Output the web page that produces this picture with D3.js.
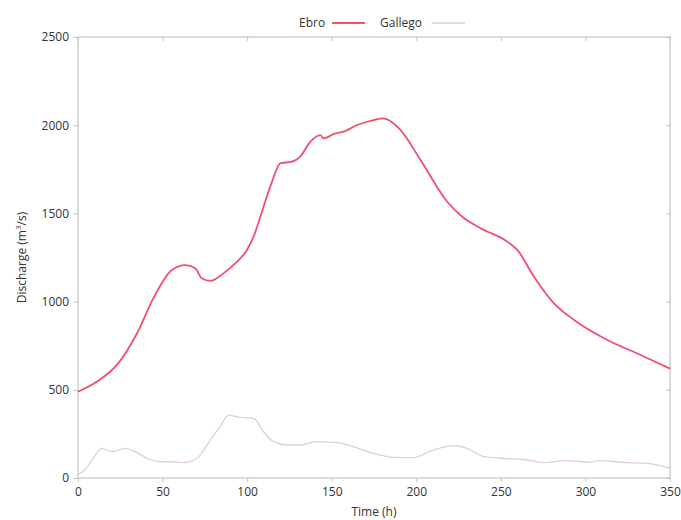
<!DOCTYPE html>
<html>
<head>
<meta charset="utf-8">
<script src="https://cdn.jsdelivr.net/npm/d3@7"></script>
<style>
  body { margin: 0; background: #fff; }
  svg text { font-family: "Open Sans", sans-serif; fill: #333; }
</style>
</head>
<body>
<svg id="chart" width="681" height="520"></svg>
<script>
// Ebro discharge (time h, m3/s)
var ebroT = [0, 11, 23, 35, 44.6, 55.5, 63.4, 69.3, 73.2, 78.2, 86, 94, 99.9, 103.8, 109.7, 114.7, 119.6, 126.5, 131.4, 137.4, 143.3, 145.2, 152.2, 157, 165, 172.9, 179.8, 182.7, 190.6, 202.5, 218.3, 227.2, 238, 253.8, 259.7, 269.6, 281.4, 293.3, 313, 332.7, 350]
var ebroQ = [489, 546, 641, 822, 1020, 1179, 1207, 1189, 1132, 1117, 1160, 1226, 1293, 1368, 1538, 1680, 1784, 1793, 1822, 1907, 1944, 1926, 1954, 1963, 2001, 2024, 2039, 2033, 1973, 1803, 1566, 1481, 1416, 1340, 1293, 1141, 990, 896, 782, 697, 620]

// Gallego discharge
var gallT = [0, 4, 9, 14, 20, 27.8, 33.7, 40.7, 48.5, 54.5, 62.3, 70.3, 78.2, 84, 89, 95.9, 103.8, 109.7, 115.6, 123.5, 131.4, 140.3, 153.2, 163, 172.9, 186.7, 198.5, 208.4, 222.2, 230.1, 240, 249.9, 265.7, 274.5, 289.3, 303.1, 307, 324.8, 336.7, 350]
var gallQ = [20, 45, 112, 168, 149, 168, 149, 112, 92, 92, 87, 112, 215, 291, 357, 344, 338, 262, 206, 187, 187, 206, 200, 177, 145, 117, 115, 153, 183, 168, 121, 112, 102, 87, 98, 89, 98, 87, 83, 55]

var xTicks = [0, 50, 100, 150, 200, 250, 300, 350]
var yTicks = [0, 500, 1000, 1500, 2000, 2500]

var colorEbro = '#f0506e'
var colorGall = '#e3cdd2'
var colorFrame = '#c4c4c4'

var svg = d3.select('#chart')
var pLeft = 78, pRight = 670, pTop = 37, pBottom = 478

var x = d3.scaleLinear().domain([0, 350]).range([pLeft, pRight])
var y = d3.scaleLinear().domain([0, 2500]).range([pBottom, pTop])

function series(ts, qs) {
  return ts.map(function (t, i) { return [t, qs[i]] })
}

// frame
svg.append('rect')
  .attr('x', pLeft).attr('y', pTop)
  .attr('width', pRight - pLeft).attr('height', pBottom - pTop)
  .attr('fill', 'none').attr('stroke', colorFrame).attr('stroke-width', 1.2)

// axes
var xAxis = svg.append('g')
  .attr('transform', 'translate(0,' + pBottom + ')')
  .call(d3.axisBottom(x).tickValues(xTicks).tickSize(4).tickPadding(5).tickFormat(d3.format('d')))
var yAxis = svg.append('g')
  .attr('transform', 'translate(' + pLeft + ',0)')
  .call(d3.axisLeft(y).tickValues(yTicks).tickSize(5).tickPadding(4).tickFormat(d3.format('d')))
var yAxisR = svg.append('g')
  .attr('transform', 'translate(' + pRight + ',0)')
  .call(d3.axisLeft(y).tickValues(yTicks).tickSize(4).tickFormat(''))
var xAxisT = svg.append('g')
  .attr('transform', 'translate(0,' + pTop + ')')
  .call(d3.axisBottom(x).tickValues(xTicks).tickSize(4).tickFormat(''))

;[xAxis, yAxis, yAxisR, xAxisT].forEach(function (g) {
  g.select('.domain').remove()
  g.selectAll('line').attr('stroke', colorFrame)
  g.selectAll('text').attr('font-size', 12).attr('fill', '#333')
    .style('font-family', '"Open Sans", sans-serif')
})

// lines
var line = d3.line()
  .x(function (d) { return x(d[0]) })
  .y(function (d) { return y(d[1]) })
  .curve(d3.curveMonotoneX)

svg.append('path')
  .datum(series(gallT, gallQ))
  .attr('d', line)
  .attr('fill', 'none').attr('stroke', colorGall).attr('stroke-width', 1.3)

svg.append('path')
  .datum(series(ebroT, ebroQ))
  .attr('d', line)
  .attr('fill', 'none').attr('stroke', colorEbro).attr('stroke-width', 1.8)

// axis titles
svg.append('text')
  .attr('x', (pLeft + pRight) / 2).attr('y', 516)
  .attr('text-anchor', 'middle').attr('font-size', 12)
  .text('Time (h)')

var yt = svg.append('text')
  .attr('transform', 'translate(26,' + (pTop + pBottom) / 2 + ') rotate(-90)')
  .attr('text-anchor', 'middle').attr('font-size', 12)
yt.append('tspan').text('Discharge (m')
yt.append('tspan').attr('font-size', 8).attr('dy', -5).text('3')
yt.append('tspan').attr('dy', 5).text('/s)')

// legend
var legend = [
  { name: 'Ebro', color: colorEbro, tx: 299, lx0: 332, lx1: 365, w: 1.8 },
  { name: 'Gallego', color: colorGall, tx: 380, lx0: 432, lx1: 465, w: 1.3 }
]
legend.forEach(function (d) {
  svg.append('text').attr('x', d.tx).attr('y', 27).attr('font-size', 12).text(d.name)
  svg.append('line')
    .attr('x1', d.lx0).attr('x2', d.lx1).attr('y1', 23).attr('y2', 23)
    .attr('stroke', d.color).attr('stroke-width', d.w)
})
</script>
</body>
</html>
